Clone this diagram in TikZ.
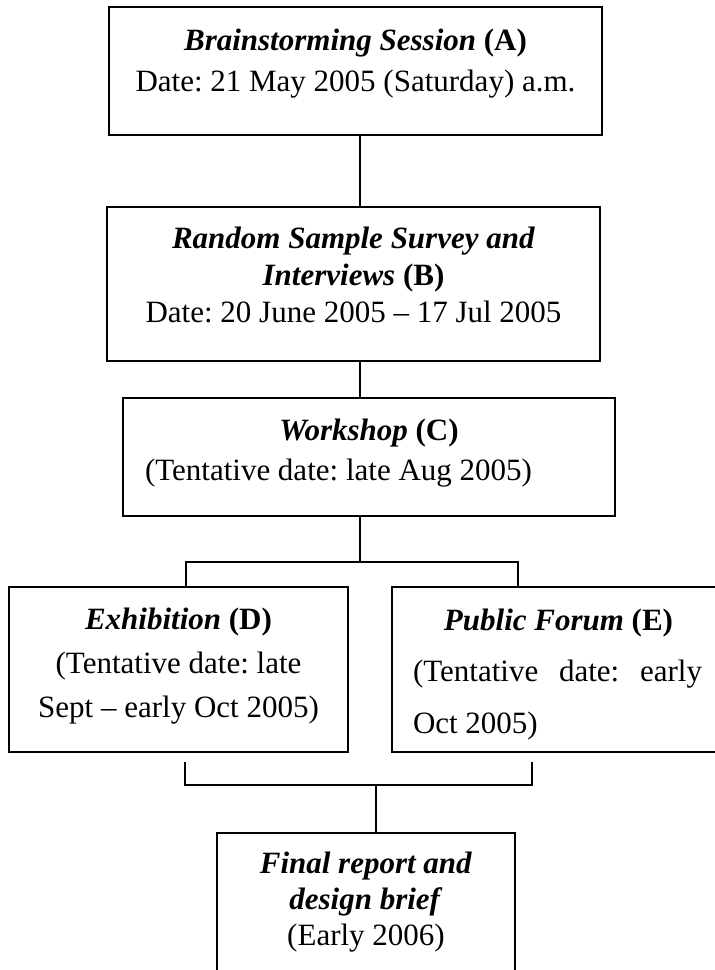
\documentclass[tikz,border=0pt]{standalone}
\usepackage{fontspec}
\setmainfont{Liberation Serif}
% box content: width, height, first baseline, line skip, text
\newcommand{\stagebox}[5]{\parbox[c][#2pt][t]{#1pt}{\fontsize{31}{#4}\selectfont\frenchspacing\centering\rule{0pt}{#3pt}#5}}
\newcommand{\stagetitle}[2]{\textbf{\textit{#1}} \textbf{(#2)}}

\begin{document}
\begin{tikzpicture}[x=1pt, y=1pt,
  stage/.style={draw, line width=1.2pt, inner sep=0pt},
  link/.style={line width=1.2pt}]
\useasboundingbox (0,0) rectangle (715,-970);

% Stages
\node[stage] (A) at (355.5,-71) {\stagebox{493}{128}{43}{41}{\stagetitle{Brainstorming Session}{A}\\ Date: 21 May 2005 (Saturday) a.m.}};
\node[stage] (B) at (353.5,-284) {\stagebox{493}{154}{41}{37}{\textbf{\textit{Random Sample Survey and}}\\ \stagetitle{Interviews}{B}\\ Date: 20 June 2005 -- 17 Jul 2005}};
\node[stage] (C) at (369,-457) {\stagebox{492}{118}{42}{40}{\stagetitle{Workshop}{C}\\ \makebox[\linewidth][l]{\hspace*{22pt}(Tentative date: late Aug 2005)}}};
\node[stage] (D) at (178.5,-669.5) {\stagebox{339}{165}{42}{44}{\stagetitle{Exhibition}{D}\\ (Tentative date: late\\ Sept -- early Oct 2005)}};
\node[stage] (E) at (558.5,-669.5) {\stagebox{333}{165}{43}{51.5}{\stagetitle{Public Forum}{E}\\ \makebox[\linewidth][l]{\hspace*{21pt}\makebox[289pt][s]{(Tentative date: early}}\\ \makebox[\linewidth][l]{\hspace*{21pt}Oct 2005)}}};
\node[stage] (F) at (366,-923) {\stagebox{298}{180}{40}{36}{\textbf{\textit{Final report and}}\\ \textbf{\textit{design brief}}\\ (Early 2006)}};

% Branch points
\coordinate (spine) at (360,0);
\coordinate (split) at (360,-562);
\coordinate (dl) at (186,-562);
\coordinate (er) at (518,-562);
\coordinate (jlt) at (185,-762);
\coordinate (jrt) at (532,-762);
\coordinate (jl) at (185,-785);
\coordinate (jr) at (532,-785);
\coordinate (join) at (376,-785);

% Connectors
\draw[link] (A.south -| spine) -- (B.north -| spine);
\draw[link] (B.south -| spine) -- (C.north -| spine);
\draw[link] (C.south -| split) -- (split);
\draw[link] (dl |- D.north) -- (dl) -- (er) -- (er |- E.north);
\draw[link] (jlt) -- (jl) -- (jr) -- (jrt);
\draw[link] (join) -- (join |- F.north);
\end{tikzpicture}
\end{document}
